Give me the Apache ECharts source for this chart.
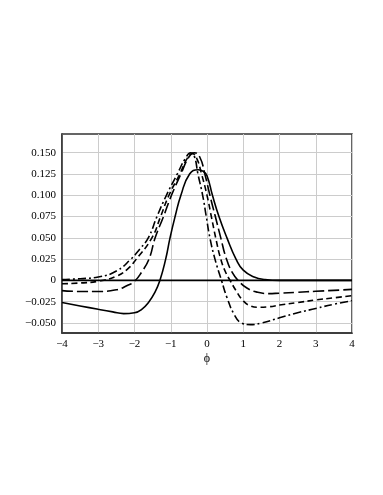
<!DOCTYPE html>
<html><head><meta charset="utf-8">
<script src="https://cdn.jsdelivr.net/npm/echarts@6/dist/echarts.min.js"></script>
<style>html,body{margin:0;padding:0;background:#fff}#c{width:383px;height:495px}</style>
</head><body><div id="c"></div>
<script>
const xTicks = [-4,-3,-2,-1,0,1,2,3,4];
const yTicks = [-0.05,-0.025,0,0.025,0.05,0.075,0.1,0.125,0.15];
const solidCurve = [[-4,-0.026],[-3.5,-0.030],[-3,-0.034],[-2.6,-0.037],[-2.3,-0.039],[-2,-0.038],[-1.8,-0.034],[-1.6,-0.025],[-1.45,-0.015],[-1.3,0.0],[-1.14,0.025],[-1.02,0.050],[-0.88,0.075],[-0.72,0.100],[-0.48,0.125],[-0.24,0.130],[-0.1,0.128],[0.0,0.123],[0.15,0.100],[0.33,0.075],[0.55,0.050],[0.8,0.025],[1.0,0.012],[1.3,0.004],[1.6,0.001],[2,0.0],[3,0.0],[4,0.0]];
const longDash = [[-4,-0.012],[-3.5,-0.013],[-3,-0.013],[-2.5,-0.011],[-2.2,-0.006],[-2,-0.001],[-1.8,0.010],[-1.6,0.025],[-1.43,0.050],[-1.2,0.075],[-0.98,0.100],[-0.72,0.125],[-0.5,0.145],[-0.35,0.150],[-0.2,0.145],[-0.06,0.125],[0.08,0.100],[0.23,0.075],[0.38,0.050],[0.53,0.026],[0.7,0.009],[0.88,-0.001],[1.1,-0.009],[1.4,-0.014],[1.7,-0.0155],[2,-0.015],[2.5,-0.014],[3,-0.0128],[3.5,-0.0117],[4,-0.0106]];
const mediumDash = [[-4,-0.004],[-3.5,-0.003],[-3,-0.001],[-2.5,0.005],[-2.2,0.013],[-1.95,0.025],[-1.52,0.050],[-1.28,0.075],[-1.05,0.100],[-0.75,0.125],[-0.55,0.143],[-0.4,0.149],[-0.28,0.143],[-0.15,0.125],[0.0,0.100],[0.12,0.075],[0.24,0.050],[0.38,0.025],[0.52,0.009],[0.65,-0.001],[0.8,-0.012],[1.0,-0.024],[1.2,-0.030],[1.4,-0.0315],[1.7,-0.031],[2,-0.029],[2.5,-0.026],[3,-0.023],[3.5,-0.0205],[4,-0.018]];
const dashDot = [[-4,0.001],[-3.5,0.002],[-3,0.004],[-2.5,0.011],[-2.1,0.025],[-1.85,0.037],[-1.62,0.050],[-1.38,0.075],[-1.12,0.100],[-0.82,0.125],[-0.6,0.143],[-0.45,0.150],[-0.35,0.146],[-0.25,0.125],[-0.12,0.100],[-0.02,0.075],[0.08,0.050],[0.22,0.025],[0.4,0.0],[0.55,-0.020],[0.75,-0.040],[0.95,-0.050],[1.2,-0.052],[1.5,-0.050],[2,-0.044],[2.5,-0.038],[3,-0.033],[3.5,-0.028],[4,-0.024]];
const zeroLine = [[-4,0],[4,0]];

const font = 'Liberation Serif';
const fmtY = v => { if (Math.abs(v) < 1e-9) return '0'; return (v<0?'\u2212':'') + Math.abs(v).toFixed(3); };
const fmtX = v => (v<0?'\u2212':'') + Math.abs(v);
function line(data, type, w) {
  return { type:'line', data, showSymbol:false, smooth:0.5, animation:false,
    lineStyle:{ color:'#000', width:w||1.6, type } };
}
const chart = echarts.init(document.getElementById('c'), null, {renderer:'canvas'});
chart.setOption({
  animation:false,
  grid:{ left:62, right:31, top:134, bottom:162, show:true, borderColor:'#333', borderWidth:1.5, backgroundColor:'transparent' },
  xAxis:{ type:'value', min:-4, max:4, interval:1,
    name:'\u03d5', nameLocation:'middle', nameGap:20, nameTextStyle:{fontFamily:font, fontSize:12, color:'#000'},
    axisLine:{show:true, onZero:false, lineStyle:{color:'#333', width:1.5}},
    axisTick:{show:false},
    axisLabel:{ fontFamily:font, fontSize:11, color:'#000', margin:6, formatter:fmtX },
    splitLine:{ show:true, lineStyle:{color:'#ccc', width:1} } },
  yAxis:{ type:'value', min:-0.0618, max:0.172,
    axisLine:{show:true, onZero:false, lineStyle:{color:'#333', width:1.5}},
    axisTick:{show:false, customValues:yTicks},
    axisLabel:{ fontFamily:font, fontSize:11, color:'#000', margin:6, customValues:yTicks, formatter:fmtY, showMinLabel:true, showMaxLabel:true },
    splitLine:{ show:true, lineStyle:{color:'#ccc', width:1} } },
  series:[
    line(zeroLine,'solid',1.8),
    line(solidCurve,'solid',1.6),
    line(longDash,[11,4],1.6),
    line(mediumDash,[6,3.5],1.6),
    line(dashDot,[8,3,2,3],1.6)
  ]
});
</script></body></html>
